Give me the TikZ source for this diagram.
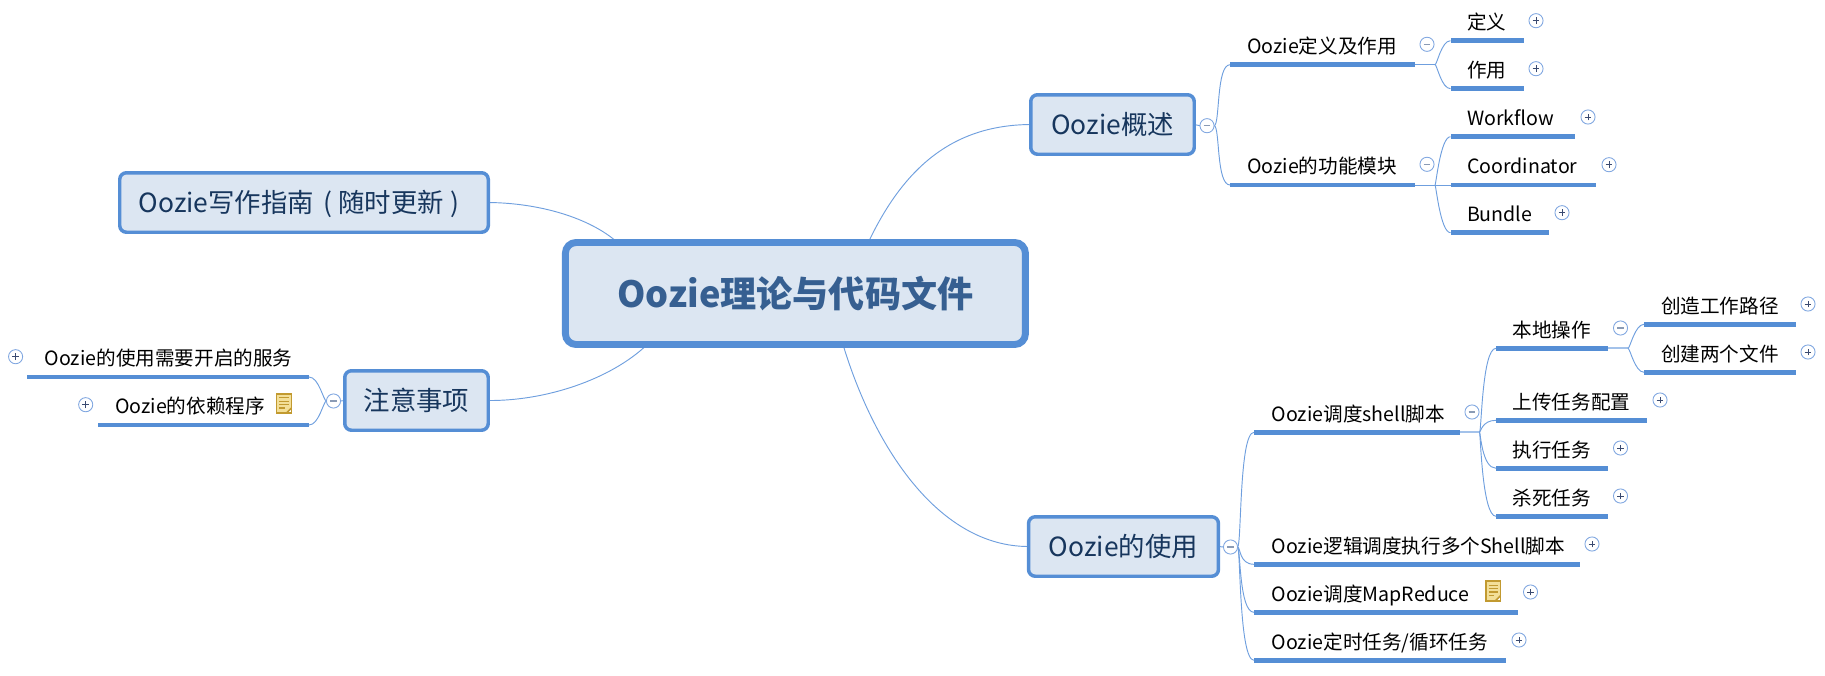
\documentclass[tikz,border=0pt]{standalone}
\usepackage{fontspec}
\setmainfont{Noto Sans CJK SC}
\usetikzlibrary{calc,backgrounds}
\definecolor{barblue}{HTML}{558ED5}
\definecolor{boxfill}{HTML}{DCE6F2}
\definecolor{linkblue}{HTML}{6F9FDE}
\definecolor{stublight}{HTML}{A3C2EA}
\definecolor{navy}{HTML}{17365D}
\definecolor{maintext}{HTML}{365F91}
\definecolor{ringblue}{HTML}{7FA6E0}
\definecolor{plusdark}{HTML}{3A4A70}
\definecolor{minusgrey}{HTML}{8A9BB5}
\definecolor{notegold}{HTML}{C29A30}
\definecolor{notefill}{HTML}{F3DF98}
\tikzset{
  x=0.75pt,y=-0.75pt,
  boxnode/.style={draw=barblue,fill=boxfill,rounded corners=5pt,line width=2.6pt,inner sep=0pt,outer sep=0pt,
    text=navy,font=\fontsize{19.8pt}{23pt}\selectfont,text height=17.4pt,text depth=2.4pt},
  mainnode/.style={draw=barblue,fill=boxfill,rounded corners=8pt,line width=5.2pt,inner sep=0pt,outer sep=0pt,
    text=maintext,font=\fontsize{27.1pt}{32pt}\selectfont\bfseries,text height=23.8pt,text depth=3.3pt},
  barnode/.style={rectangle,fill=barblue,draw=none,inner sep=0pt,outer sep=0pt,minimum height=3.4pt},
  lblnode/.style={inner sep=0pt,outer sep=0pt,anchor=west,text=black,
    font=\fontsize{14.7pt}{17pt}\selectfont,text height=12.9pt,text depth=1.8pt},
  link/.style={draw=linkblue,line width=0.7pt},
  stub/.style={draw=stublight,line width=1.3pt},
  ring/.style={circle,minimum size=10.6pt,inner sep=0pt,outer sep=0pt,fill=white,draw=ringblue,line width=0.65pt},
  plusnode/.style={ring,path picture={
    \draw[plusdark,line width=0.7pt] ([xshift=-2.6pt]path picture bounding box.center) -- ([xshift=2.6pt]path picture bounding box.center);
    \draw[plusdark,line width=0.7pt] ([yshift=-2.6pt]path picture bounding box.center) -- ([yshift=2.6pt]path picture bounding box.center);}},
  minusnode/.style={ring,path picture={
    \draw[minusgrey,line width=0.8pt] ([xshift=-2.6pt]path picture bounding box.center) -- ([xshift=2.6pt]path picture bounding box.center);}},
  notenode/.style={rectangle,minimum width=11pt,minimum height=14.6pt,inner sep=0pt,outer sep=0pt,
    draw=notegold,fill=notefill,line width=1.2pt,path picture={
    \draw[notegold,line width=0.9pt]
      ([xshift=-3.6pt,yshift=4.4pt]path picture bounding box.center) -- ([xshift=3.6pt,yshift=4.4pt]path picture bounding box.center)
      ([xshift=-3.6pt,yshift=1.8pt]path picture bounding box.center) -- ([xshift=3.6pt,yshift=1.8pt]path picture bounding box.center)
      ([xshift=-3.6pt,yshift=-0.8pt]path picture bounding box.center) -- ([xshift=3.6pt,yshift=-0.8pt]path picture bounding box.center)
      ([xshift=-3.6pt,yshift=-3.4pt]path picture bounding box.center) -- ([xshift=0.5pt,yshift=-3.4pt]path picture bounding box.center);
    \fill[white] (path picture bounding box.south east) -- ++(-3.8pt,0) -- ++(3.8pt,3.8pt) -- cycle;
    \draw[notegold,line width=1.2pt] ([xshift=-3.8pt]path picture bounding box.south east) -- ([yshift=3.8pt]path picture bounding box.south east);}}
}
% name, x left, x right, y of bar, x of text, text
\newcommand\topicnode[6]{%
  \node[barnode,minimum width={(#3-#2)*0.75pt}] (#1) at ({(#2+#3)/2},#4) {};
  \node[lblnode] (#1t) at (#5,#4-18.5) {#6};}
% bracket to the right: from anchor point, with first handle, to child bar
\newcommand\brk[4]{\draw[link] (#1) .. controls ($(#1)+(#3,0)$) and ($(#2.west)+(-#4,0)$) .. (#2.west);}
\newcommand\brl[4]{\draw[link] (#1) .. controls ($(#1)+(-#3,0)$) and ($(#2.east)+(#4,0)$) .. (#2.east);}
\begin{document}
\begin{tikzpicture}
\useasboundingbox (0,0) rectangle (1825,675);
% central and main boxes
\node[mainnode,minimum width=345pt,minimum height=76.5pt] (main) at (795.4,293.5) {Oozie理论与代码文件};
\node[boxnode,minimum width=122.6pt,minimum height=44.6pt] (gs) at (1112.5,124.5) {Oozie概述};
\node[boxnode,minimum width=142.4pt,minimum height=44.6pt] (use) at (1123.5,546.5) {Oozie的使用};
\node[boxnode,minimum width=276.4pt,minimum height=44.6pt] (xz) at (304,202.5) {Oozie写作指南\hspace{7pt}(\hspace{4.5pt}随时更新\hspace{5pt})\hspace*{7.5pt}};
\node[boxnode,minimum width=107.6pt,minimum height=44.6pt] (zy) at (416.5,400.5) {注意事项};
% collapse buttons
\node[minusnode] (mgs) at (1207,125.7) {};
\node[minusnode] (muse) at (1230.5,547) {};
\node[minusnode] (mzy) at (333.5,401) {};
% overview branch
\topicnode{dy}{1230}{1415}{64.7}{1247}{Oozie定义及作用}
\topicnode{gn}{1230}{1415}{185}{1247}{Oozie的功能模块}
\node[minusnode] (mdy) at (1427,44.3) {};
\node[minusnode] (mgn) at (1427,164.3) {};
\topicnode{def}{1450.5}{1524}{40.7}{1467}{定义}
\topicnode{zyo}{1450.5}{1524}{88.7}{1467}{作用}
\topicnode{wf}{1450.5}{1575}{136.7}{1467}{Workflow}
\topicnode{co}{1450.5}{1596}{185}{1467}{Coordinator}
\topicnode{bu}{1450.5}{1549}{232.7}{1467}{Bundle}
\node[plusnode] (pdef) at (1536,20.7) {};
\node[plusnode] (pzyo) at (1536,68.7) {};
\node[plusnode] (pwf) at (1588,117) {};
\node[plusnode] (pco) at (1609,164.7) {};
\node[plusnode] (pbu) at (1562,212.7) {};
% usage branch
\topicnode{sh}{1254}{1459.5}{432.3}{1271.6}{Oozie调度shell脚本}
\topicnode{lj}{1254}{1579.5}{564.3}{1271.6}{Oozie逻辑调度执行多个Shell脚本}
\topicnode{mr}{1254}{1518}{612.3}{1271.6}{Oozie调度MapReduce}
\topicnode{ds}{1254}{1506}{660.3}{1271.6}{Oozie定时任务/循环任务}
\node[minusnode] (msh) at (1472,412) {};
\node[plusnode] (plj) at (1592,544) {};
\node[notenode] (nmr) at (1493.3,591) {};
\node[plusnode] (pmr) at (1530.5,592) {};
\node[plusnode] (pds) at (1519,640) {};
\topicnode{bd}{1496}{1608}{348.3}{1512.6}{本地操作}
\topicnode{sc}{1496}{1647}{420.3}{1512.6}{上传任务配置}
\topicnode{zx}{1496}{1608}{468.3}{1512.6}{执行任务}
\topicnode{ss}{1496}{1608}{516.3}{1512.6}{杀死任务}
\node[minusnode] (mbd) at (1620.5,328) {};
\node[plusnode] (psc) at (1660,400) {};
\node[plusnode] (pzx) at (1620.5,448) {};
\node[plusnode] (pss) at (1620.5,496) {};
\topicnode{cz}{1644}{1796}{324.3}{1661}{创造工作路径}
\topicnode{cj}{1644}{1796}{372.3}{1661}{创建两个文件}
\node[plusnode] (pcz) at (1808,304) {};
\node[plusnode] (pcj) at (1808,352) {};
% notes branch
\node[barnode,minimum width=211.5pt] (fw) at (168,377) {};
\node[lblnode] (fwt) at (44.6,358.5) {Oozie的使用需要开启的服务};
\node[barnode,minimum width=158.3pt] (yl) at (203.5,425) {};
\node[lblnode] (ylt) at (115,406.5) {Oozie的依赖程序};
\node[notenode] (nyl) at (284,403.5) {};
\node[plusnode] (pfw) at (15.6,356.7) {};
\node[plusnode] (pyl) at (85.7,404.7) {};
% connectors
\begin{pgfonlayer}{background}
\draw[link] (main.35) .. controls (905,165) and (955,125) .. (gs.west);
\draw[link] (main.313.3) .. controls (875,450) and (940,546.5) .. (use.west);
\draw[link] (main.164) .. controls (590,218) and (540,203) .. (xz.east);
\draw[link] (main.199) .. controls (610,380) and (545,401) .. (zy.east);
\draw[link] (gs.east) -- (mgs.west);
\draw[link] (use.east) -- (muse.west);
\draw[link] (zy.west) -- (mzy.east);
\brk{mgs.east}{dy}{6}{14}
\brk{mgs.east}{gn}{6}{14}
\coordinate (jdy) at ($(dy.east)+(20,0)$);
\coordinate (jgn) at ($(gn.east)+(20,0)$);
\draw[link] (dy.east) -- (jdy);
\draw[link] (gn.east) -- (jgn);
\brk{jdy}{def}{2}{9}
\brk{jdy}{zyo}{2}{9}
\brk{jgn}{wf}{1}{10}
\draw[link] (jgn) -- (co.west);
\brk{jgn}{bu}{1}{10}
\brk{muse.east}{sh}{4}{15}
\brk{muse.east}{lj}{3}{15}
\brk{muse.east}{mr}{3}{15}
\brk{muse.east}{ds}{3}{15}
\coordinate (jsh) at ($(sh.east)+(20,0)$);
\draw[stub] (sh.east) -- (jsh);
\brk{jsh}{bd}{2}{14}
\brk{jsh}{sc}{1}{14}
\brk{jsh}{zx}{1}{14}
\brk{jsh}{ss}{1}{14}
\coordinate (jbd) at ($(bd.east)+(20,0)$);
\draw[stub] (bd.east) -- (jbd);
\brk{jbd}{cz}{2}{9}
\brk{jbd}{cj}{2}{9}
\brl{mzy.west}{fw}{3}{10}
\brl{mzy.west}{yl}{3}{10}
\end{pgfonlayer}
\end{tikzpicture}
\end{document}
